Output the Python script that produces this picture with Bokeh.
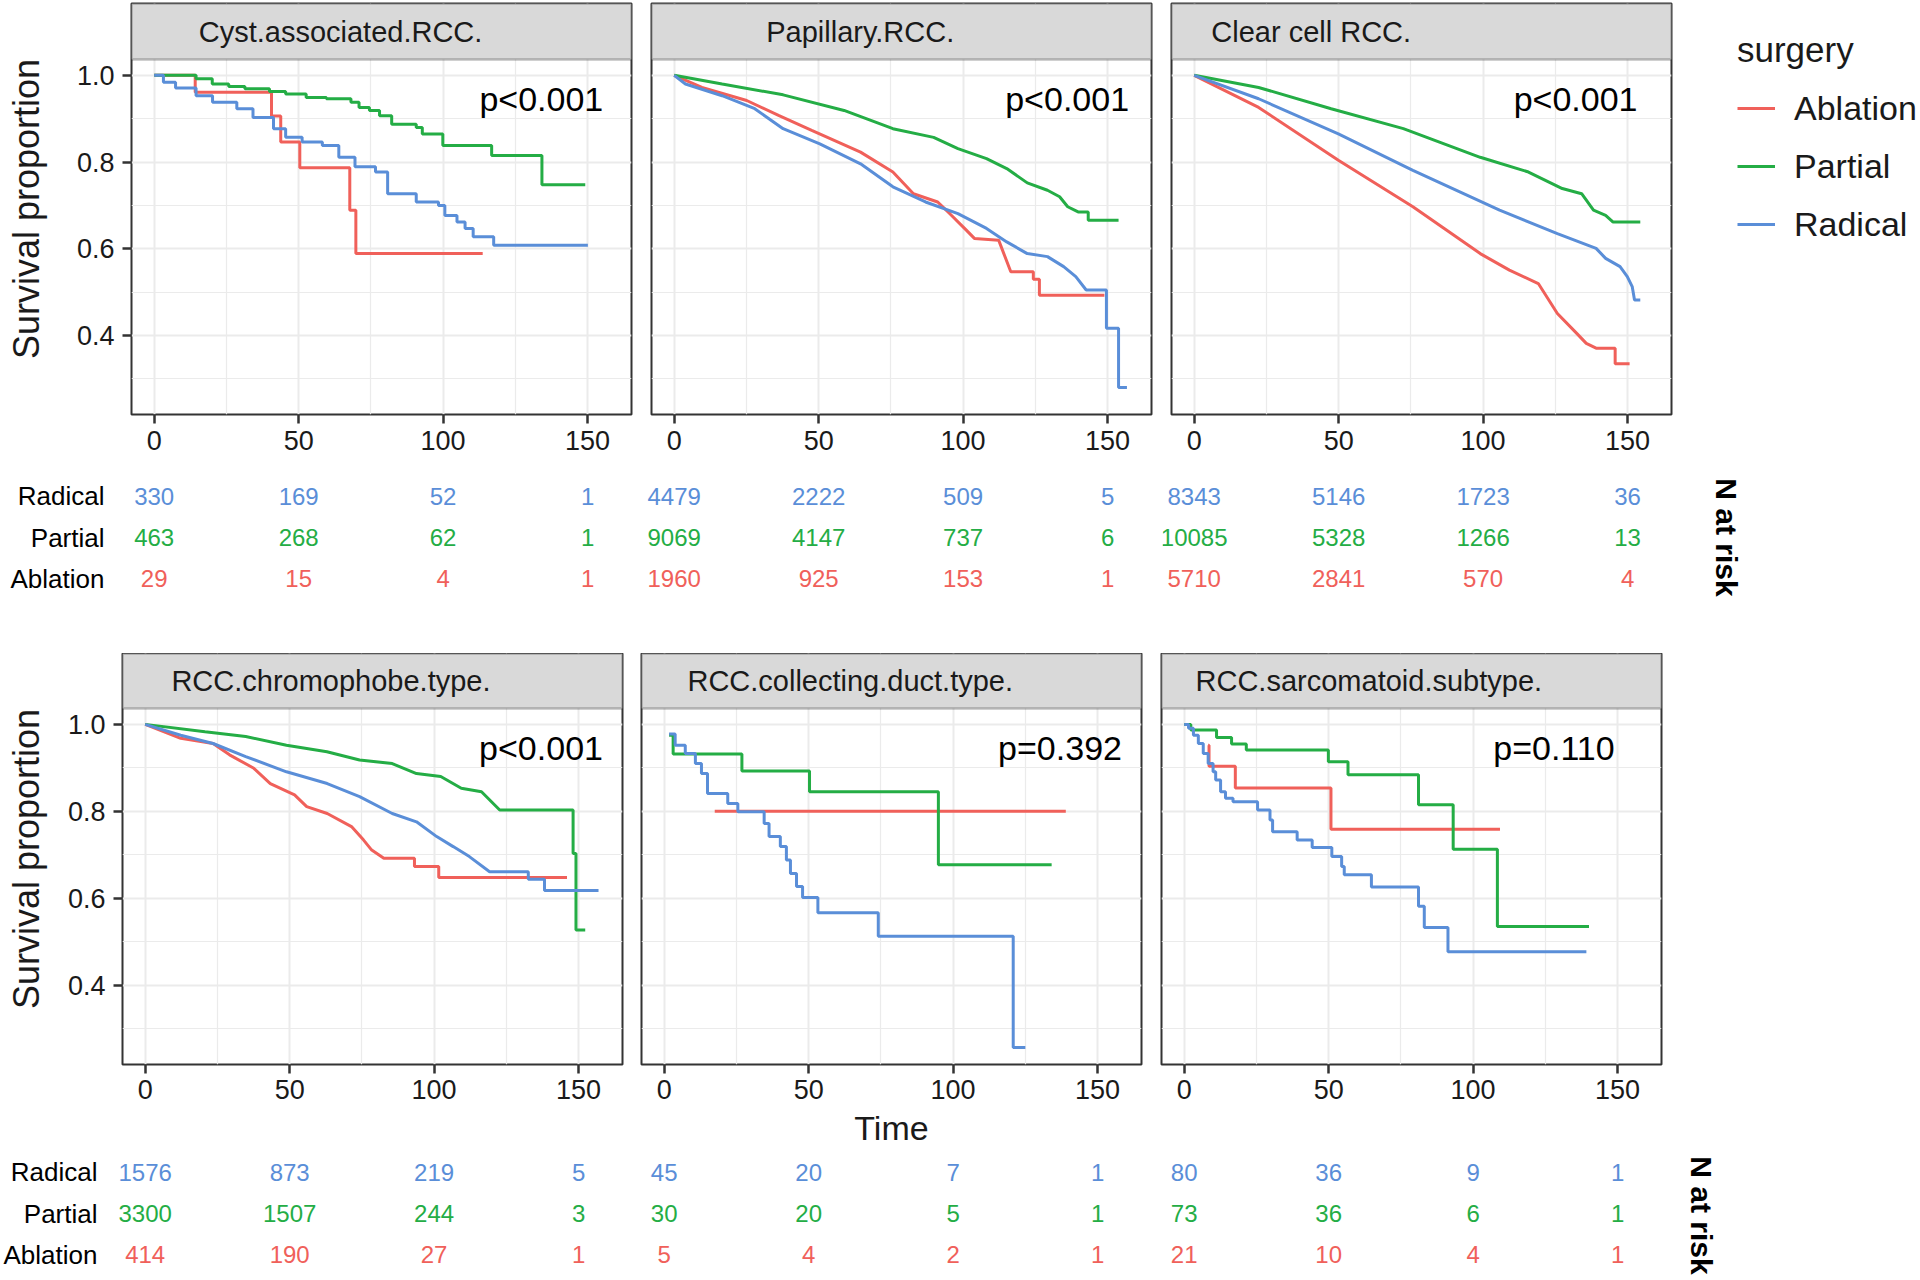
import math
from bokeh.plotting import figure
from bokeh.layouts import column, row
from bokeh.models import (Range1d, FactorRange, FixedTicker, BoxAnnotation, Label,
                          ColumnDataSource, NumeralTickFormatter, Grid)
from bokeh.core.properties import value
from bokeh.embed import file_html
from bokeh.resources import INLINE

# ---------------------------------------------------------------- data
GROUPS = ["Ablation", "Partial", "Radical"]
PANEL_TITLES = ["Cyst.associated.RCC.", "Papillary.RCC.", "Clear cell  RCC.",
                "RCC.chromophobe.type.", "RCC.collecting.duct.type.", "RCC.sarcomatoid.subtype."]
P_VALUES = ["p<0.001", "p<0.001", "p<0.001", "p<0.001", "p=0.392", "p=0.110"]
RISK_TIMES = [0, 50, 100, 150]
X_TICKS = [0, 50, 100, 150]
X_MINOR = [25, 75, 125]
Y_TICKS = [0.4, 0.6, 0.8, 1.0]
Y_MINOR = [0.3, 0.5, 0.7, 0.9]

# numbers at risk at t = 0, 50, 100, 150
cyst_risk_radical = [330, 169, 52, 1]
cyst_risk_partial = [463, 268, 62, 1]
cyst_risk_ablation = [29, 15, 4, 1]
pap_risk_radical = [4479, 2222, 509, 5]
pap_risk_partial = [9069, 4147, 737, 6]
pap_risk_ablation = [1960, 925, 153, 1]
clear_risk_radical = [8343, 5146, 1723, 36]
clear_risk_partial = [10085, 5328, 1266, 13]
clear_risk_ablation = [5710, 2841, 570, 4]
chromo_risk_radical = [1576, 873, 219, 5]
chromo_risk_partial = [3300, 1507, 244, 3]
chromo_risk_ablation = [414, 190, 27, 1]
duct_risk_radical = [45, 20, 7, 1]
duct_risk_partial = [30, 20, 5, 1]
duct_risk_ablation = [5, 4, 2, 1]
sarc_risk_radical = [80, 36, 9, 1]
sarc_risk_partial = [73, 36, 6, 1]
sarc_risk_ablation = [21, 10, 4, 1]

# survival curves (time, survival); "step" curves are drawn as steps after each time
cyst_ablation_t = [0, 14.2, 40.6, 43.8, 50.4, 67.7, 69.8, 113.7]
cyst_ablation_s = [1.0, 0.961, 0.906, 0.846, 0.787, 0.689, 0.589, 0.589]
cyst_partial_t = [0, 14.5, 20.1, 25.8, 31.4, 39.9, 45.5, 52.6, 59.6, 68.1, 70.9, 74.5, 78.0, 82.2,
                  90.7, 92.8, 99.9, 116.8, 134.2, 149.2]
cyst_partial_s = [1.0, 0.992, 0.980, 0.974, 0.969, 0.963, 0.957, 0.949, 0.946, 0.938, 0.926, 0.919,
                  0.907, 0.887, 0.880, 0.865, 0.838, 0.815, 0.748, 0.748]
cyst_radical_t = [0, 3.2, 7.4, 14.5, 20.2, 28.6, 34.2, 41.3, 45.5, 51.2, 58.2, 63.9, 69.5, 76.6,
                  80.8, 90.7, 98.4, 100.6, 104.8, 107.6, 110.4, 117.5, 150.1]
cyst_radical_s = [1.0, 0.984, 0.971, 0.953, 0.938, 0.923, 0.903, 0.877, 0.857, 0.846, 0.838, 0.811,
                  0.789, 0.777, 0.727, 0.708, 0.700, 0.677, 0.662, 0.647, 0.628, 0.608, 0.608]

pap_ablation_t = [0, 9.6, 25.1, 36.3, 47.6, 64.5, 75.7, 82.8, 91.2, 95.4, 101.1, 103.9, 112.3,
                  116.5, 124.3, 124.3, 126.4, 126.4, 148.9]
pap_ablation_s = [1.0, 0.972, 0.942, 0.907, 0.873, 0.823, 0.777, 0.727, 0.708, 0.681, 0.643, 0.624,
                  0.620, 0.547, 0.547, 0.530, 0.530, 0.493, 0.493]
pap_partial_t = [0, 16.6, 37.7, 58.8, 75.7, 89.8, 98.2, 108.1, 115.1, 122.2, 129.2, 133.4, 136.2,
                 139.8, 143.3, 143.3, 153.8]
pap_partial_s = [1.0, 0.980, 0.955, 0.919, 0.877, 0.857, 0.831, 0.808, 0.785, 0.752, 0.735, 0.720,
                 0.697, 0.685, 0.685, 0.666, 0.666]
pap_radical_t = [0, 3.9, 16.6, 27.9, 37.7, 50.4, 64.5, 75.7, 87.0, 98.2, 108.1, 115.1, 122.2, 129.2,
                 134.8, 139.0, 142.6, 149.6, 149.6, 153.8, 153.8, 156.7]
pap_radical_s = [1.0, 0.980, 0.953, 0.923, 0.877, 0.842, 0.796, 0.743, 0.708, 0.681, 0.647, 0.616,
                 0.589, 0.582, 0.559, 0.536, 0.505, 0.505, 0.417, 0.417, 0.280, 0.280]

clear_ablation_t = [0, 22.3, 49.9, 75.7, 99.0, 109.1, 119.1, 125.7, 132.4, 135.7, 139.1, 145.7, 145.7, 150.7]
clear_ablation_s = [1.0, 0.926, 0.804, 0.697, 0.589, 0.551, 0.520, 0.451, 0.405, 0.382, 0.371, 0.371, 0.335, 0.335]
clear_partial_t = [0, 22.3, 47.4, 72.4, 99.0, 115.7, 127.4, 134.1, 138.2, 142.4, 144.9, 154.4]
clear_partial_s = [1.0, 0.972, 0.923, 0.877, 0.811, 0.777, 0.739, 0.727, 0.689, 0.677, 0.662, 0.662]
clear_radical_t = [0, 22.3, 49.9, 75.7, 105.7, 125.7, 139.1, 142.4, 147.4, 149.9, 151.6, 152.4, 154.4]
clear_radical_s = [1.0, 0.946, 0.865, 0.781, 0.689, 0.635, 0.601, 0.578, 0.559, 0.536, 0.513, 0.482, 0.482]

chromo_ablation_t = [0, 12.3, 23.5, 29.2, 37.6, 43.3, 51.7, 55.9, 63.0, 71.4, 75.6, 78.4, 82.6, 93.2,
                     93.2, 101.6, 101.6, 146.0]
chromo_ablation_s = [1.0, 0.968, 0.956, 0.930, 0.899, 0.864, 0.838, 0.811, 0.795, 0.765, 0.734, 0.711,
                     0.692, 0.692, 0.673, 0.673, 0.648, 0.648]
chromo_partial_t = [0, 20.7, 34.8, 48.9, 62.9, 74.2, 85.5, 93.9, 102.3, 109.4, 116.4, 122.7, 148.1,
                    148.1, 149.1, 149.1, 152.3]
chromo_partial_s = [1.0, 0.983, 0.972, 0.952, 0.937, 0.918, 0.910, 0.887, 0.880, 0.853, 0.845, 0.803,
                    0.803, 0.703, 0.703, 0.527, 0.527]
chromo_radical_t = [0, 12.3, 23.5, 34.8, 48.9, 63.0, 74.2, 85.5, 93.9, 100.9, 106.6, 112.2, 119.2,
                    132.6, 132.6, 138.2, 138.2, 156.9]
chromo_radical_s = [1.0, 0.975, 0.956, 0.926, 0.891, 0.864, 0.834, 0.795, 0.776, 0.742, 0.719, 0.696,
                    0.661, 0.661, 0.644, 0.644, 0.618, 0.618]

duct_ablation_t = [17.5, 139.0]
duct_ablation_s = [0.800, 0.800]
duct_partial_t = [1.7, 3.1, 26.9, 50.3, 94.9, 134.1]
duct_partial_s = [0.975, 0.932, 0.893, 0.845, 0.677, 0.677]
duct_radical_t = [1.7, 3.8, 7.3, 10.8, 12.9, 15.0, 22.0, 25.5, 34.6, 36.3, 40.2, 42.3, 43.7, 45.8,
                  47.9, 53.2, 74.1, 120.8, 125.0]
duct_radical_s = [0.978, 0.952, 0.933, 0.910, 0.887, 0.841, 0.818, 0.799, 0.772, 0.742, 0.719, 0.688,
                  0.657, 0.627, 0.602, 0.567, 0.513, 0.257, 0.257]

sarc_ablation_t = [8.3, 8.6, 17.7, 50.8, 109.3]
sarc_ablation_s = [0.952, 0.904, 0.854, 0.759, 0.759]
sarc_partial_t = [0, 2.3, 11.2, 16.4, 21.5, 49.9, 56.7, 81.1, 93.1, 108.4, 140.1]
sarc_partial_s = [1.0, 0.987, 0.970, 0.955, 0.941, 0.914, 0.884, 0.815, 0.713, 0.535, 0.535]
sarc_radical_t = [0, 1.5, 3.2, 4.9, 6.6, 8.3, 10.0, 10.9, 12.6, 14.3, 16.9, 25.4, 29.7, 30.6, 39.1,
                  44.3, 51.1, 54.5, 55.4, 64.8, 81.1, 83.1, 91.3, 139.2]
sarc_radical_s = [1.0, 0.991, 0.975, 0.956, 0.933, 0.910, 0.891, 0.872, 0.845, 0.830, 0.822, 0.803,
                  0.780, 0.753, 0.734, 0.717, 0.696, 0.673, 0.654, 0.626, 0.582, 0.533, 0.477, 0.477]

CURVES = [
    ("step", {"Ablation": (cyst_ablation_t, cyst_ablation_s), "Partial": (cyst_partial_t, cyst_partial_s),
              "Radical": (cyst_radical_t, cyst_radical_s)}),
    ("line", {"Ablation": (pap_ablation_t, pap_ablation_s), "Partial": (pap_partial_t, pap_partial_s),
              "Radical": (pap_radical_t, pap_radical_s)}),
    ("line", {"Ablation": (clear_ablation_t, clear_ablation_s), "Partial": (clear_partial_t, clear_partial_s),
              "Radical": (clear_radical_t, clear_radical_s)}),
    ("line", {"Ablation": (chromo_ablation_t, chromo_ablation_s), "Partial": (chromo_partial_t, chromo_partial_s),
              "Radical": (chromo_radical_t, chromo_radical_s)}),
    ("step", {"Ablation": (duct_ablation_t, duct_ablation_s), "Partial": (duct_partial_t, duct_partial_s),
              "Radical": (duct_radical_t, duct_radical_s)}),
    ("step", {"Ablation": (sarc_ablation_t, sarc_ablation_s), "Partial": (sarc_partial_t, sarc_partial_s),
              "Radical": (sarc_radical_t, sarc_radical_s)}),
]
RISK = [
    {"Radical": cyst_risk_radical, "Partial": cyst_risk_partial, "Ablation": cyst_risk_ablation},
    {"Radical": pap_risk_radical, "Partial": pap_risk_partial, "Ablation": pap_risk_ablation},
    {"Radical": clear_risk_radical, "Partial": clear_risk_partial, "Ablation": clear_risk_ablation},
    {"Radical": chromo_risk_radical, "Partial": chromo_risk_partial, "Ablation": chromo_risk_ablation},
    {"Radical": duct_risk_radical, "Partial": duct_risk_partial, "Ablation": duct_risk_ablation},
    {"Radical": sarc_risk_radical, "Partial": sarc_risk_partial, "Ablation": sarc_risk_ablation},
]

# ---------------------------------------------------------------- style / layout
FONT = "Liberation Sans"
INK = "#1A1A1A"
BORDER = "#333333"
GRID = "#EBEBEB"
STRIP_FILL = "#D9D9D9"
COLORS = {"Ablation": "#F0605A", "Partial": "#24AD45", "Radical": "#5A8ED8"}
LINE_W = 3

X_START, X_END = -7.85, 165.2
Y_LOW, Y_TOP = 0.218, 1.0365
PANEL_W = 500
RISK_PAD = 9
RISK_H = 124
STRIP_TEXT_X = [64.5, 64.4, 41.9, 64.3, 64.4, 63.9]
P_TEXT_X = [134, 136, 132, 137, 137, 128]
P_TEXT_Y = 0.946


def style_axis(ax, size="27px"):
    ax.major_label_text_font = FONT
    ax.major_label_text_font_size = size
    ax.major_label_text_color = INK
    ax.axis_line_color = None
    ax.major_tick_line_color = BORDER
    ax.major_tick_line_width = 2.5
    ax.major_tick_out = 9
    ax.major_tick_in = 0
    ax.minor_tick_line_color = None
    ax.axis_label_text_font = FONT
    ax.axis_label_text_font_style = "normal"
    ax.axis_label_text_color = INK


def blank_fig(fw, fh, top_b, bottom_b):
    f = figure(frame_width=fw, frame_height=fh, x_range=Range1d(0, 1), y_range=Range1d(0, 1),
               x_axis_location=None, y_axis_location=None,
               min_border_left=0, min_border_right=0, min_border_top=top_b, min_border_bottom=bottom_b,
               output_backend="svg", toolbar_location=None,
               background_fill_color="white", border_fill_color="white")
    f.outline_line_color = None
    f.xgrid.visible = False
    f.ygrid.visible = False
    return f


def km_panel(i, left_b, right_b, top_b, bottom_b, frame_h, strip_px, show_y,
             ylab_standoff=0, xlabel=None, tick_standoff=7):
    plot_px = frame_h - strip_px
    y_end = Y_TOP + strip_px * (Y_TOP - Y_LOW) / plot_px
    p = figure(frame_width=PANEL_W, frame_height=frame_h,
               x_range=Range1d(X_START, X_END), y_range=Range1d(Y_LOW, y_end),
               y_axis_location="left" if show_y else None,
               min_border_left=left_b, min_border_right=right_b,
               min_border_top=top_b, min_border_bottom=bottom_b,
               output_backend="svg", toolbar_location=None,
               background_fill_color="white", border_fill_color="white")
    p.outline_line_color = BORDER
    p.outline_line_width = 2
    if len(p.ygrid) == 0:
        p.add_layout(Grid(dimension=1), "center")
    p.xgrid.ticker = FixedTicker(ticks=X_TICKS, minor_ticks=X_MINOR)
    p.ygrid.ticker = FixedTicker(ticks=Y_TICKS, minor_ticks=Y_MINOR)
    for g in (p.xgrid, p.ygrid):
        g.grid_line_color = GRID
        g.grid_line_width = 2
        g.minor_grid_line_color = GRID
        g.minor_grid_line_width = 1.2

    p.xaxis.ticker = FixedTicker(ticks=X_TICKS)
    style_axis(p.xaxis)
    p.xaxis.major_label_standoff = tick_standoff
    if xlabel:
        p.xaxis.axis_label = xlabel
        p.xaxis.axis_label_text_font_size = "34px"
        p.xaxis.axis_label_standoff = 7
    if show_y:
        p.yaxis.ticker = FixedTicker(ticks=Y_TICKS)
        p.yaxis.formatter = NumeralTickFormatter(format="0.0")
        style_axis(p.yaxis)
        p.yaxis.major_label_standoff = 8
        p.yaxis.axis_label = "Survival proportion"
        p.yaxis.axis_label_text_font_size = "36px"
        p.yaxis.axis_label_standoff = ylab_standoff

    kind, curves = CURVES[i]
    for g in GROUPS:
        t, s = curves[g]
        if kind == "step":
            p.step(x=t, y=s, mode="after", line_color=COLORS[g], line_width=LINE_W)
        else:
            p.line(x=t, y=s, line_color=COLORS[g], line_width=LINE_W)

    p.add_layout(BoxAnnotation(bottom=Y_TOP, fill_color=STRIP_FILL, fill_alpha=1.0,
                               line_color=BORDER, line_width=2.5))
    p.add_layout(Label(x=STRIP_TEXT_X[i], y=(Y_TOP + y_end) / 2, text=PANEL_TITLES[i],
                       text_align="center", text_baseline="middle", text_font=FONT,
                       text_font_size="29px", text_color=INK))
    p.add_layout(Label(x=P_TEXT_X[i], y=P_TEXT_Y, text=P_VALUES[i], text_align="center",
                       text_baseline="middle", text_font=FONT, text_font_size="34px",
                       text_color="black"))
    return p


def risk_panel(i, left_b, right_b, top_b, bottom_b, names_standoff=None):
    pad_u = RISK_PAD * (X_END - X_START) / PANEL_W
    r = figure(frame_width=PANEL_W + 2 * RISK_PAD, frame_height=RISK_H,
               x_range=Range1d(X_START - pad_u, X_END + pad_u),
               y_range=FactorRange(factors=GROUPS),
               x_axis_location=None,
               y_axis_location="left" if names_standoff is not None else None,
               min_border_left=left_b, min_border_right=right_b,
               min_border_top=top_b, min_border_bottom=bottom_b,
               output_backend="svg", toolbar_location=None,
               background_fill_color="white", border_fill_color="white")
    r.outline_line_color = None
    r.xgrid.visible = False
    r.ygrid.visible = False
    xs, ys, txt, cols = [], [], [], []
    for g in GROUPS:
        for t, n in zip(RISK_TIMES, RISK[i][g]):
            xs.append(t)
            ys.append(g)
            txt.append(str(n))
            cols.append(COLORS[g])
    src = ColumnDataSource(data=dict(x=xs, y=ys, text=txt, color=cols))
    r.text(x="x", y="y", text="text", text_color="color", source=src,
           text_align="center", text_baseline="middle",
           text_font=value(FONT), text_font_size="24px")
    if names_standoff is not None:
        ax = r.yaxis
        ax.axis_line_color = None
        ax.major_tick_line_color = None
        ax.minor_tick_line_color = None
        ax.major_tick_out = 0
        ax.major_label_text_font = FONT
        ax.major_label_text_color = "black"
        ax.major_label_text_font_size = "26px"
        ax.major_label_standoff = names_standoff
    return r


def nrisk_fig(fw, top_b, bottom_b, ypos):
    f = blank_fig(fw, RISK_H, top_b, bottom_b)
    f.add_layout(Label(x=0.5, y=ypos, text="N at risk", angle=-math.pi / 2,
                       text_align="center", text_baseline="middle", text_font=FONT,
                       text_font_size="30px", text_font_style="bold", text_color="black"))
    return f


# ---------------------------------------------------------------- top row
p1 = km_panel(0, 131, 10, 3, 50, 411, 56, True, ylab_standoff=27)
p2 = km_panel(1, 10, 10, 3, 50, 411, 56, False)
p3 = km_panel(2, 10, 39, 3, 50, 411, 56, False)

# legend panel: same frame geometry as the panels of its row
leg = blank_fig(208, 411, 3, 50)
for g in GROUPS:
    leg.line(x=[-10, -9], y=[-10, -9], line_color=COLORS[g], line_width=LINE_W, legend_label=g)
lg = leg.legend[0]
lg.location = "top_left"
lg.title = "surgery"
lg.title_text_font = FONT
lg.title_text_font_size = "35px"
lg.title_text_font_style = "normal"
lg.title_text_color = INK
lg.title_standoff = 18
lg.label_text_font = FONT
lg.label_text_font_size = "34px"
lg.label_text_color = INK
lg.margin = 27
lg.padding = 0
lg.spacing = 18
lg.glyph_width = 38
lg.glyph_height = 40
lg.label_height = 40
lg.label_standoff = 19
lg.background_fill_alpha = 0
lg.border_line_color = None

r1 = risk_panel(0, 122, 1, 11, 54, names_standoff=18)
r2 = risk_panel(1, 1, 1, 11, 54)
r3 = risk_panel(2, 1, 0, 11, 54)
n_top = nrisk_fig(92, 11, 54, 0.5)

# ---------------------------------------------------------------- bottom row
p4 = km_panel(3, 122, 10, 0, 87, 411, 55, True, ylab_standoff=18, tick_standoff=6)
p5 = km_panel(4, 9, 10, 0, 87, 411, 55, False, xlabel="Time", tick_standoff=6)
p6 = km_panel(5, 10, 20, 0, 87, 411, 55, False, tick_standoff=6)

r4 = risk_panel(3, 113, 1, 0, 2, names_standoff=16)
r5 = risk_panel(4, 0, 1, 0, 2)
r6 = risk_panel(5, 1, 0, 0, 2)
n_bot = nrisk_fig(62, 0, 2, 0.484)

layout = column(row(p1, p2, p3, leg), row(r1, r2, r3, n_top),
                row(p4, p5, p6), row(r4, r5, r6, n_bot))

open("out.html", "w").write(file_html(layout, INLINE, title="Survival by surgery"))
